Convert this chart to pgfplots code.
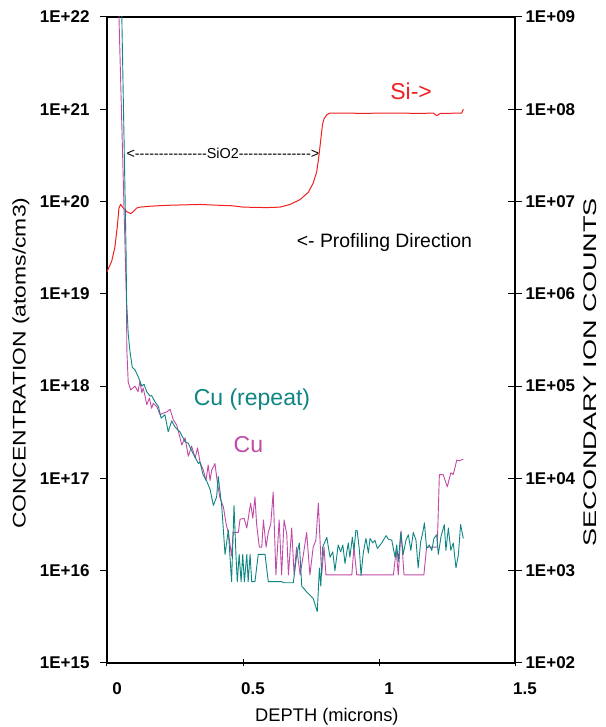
\documentclass[border=0pt]{standalone}
\usepackage{fontspec}
\setmainfont{Liberation Sans}
\usepackage{graphicx}
\usepackage{pgfplots}
\pgfplotsset{compat=1.18}
\definecolor{SiRed}{HTML}{F02020}
\definecolor{CuTeal}{HTML}{0E8582}
\definecolor{CuMag}{HTML}{C04AA6}
\newcommand\dsh{-{}-{}-{}-{}-{}-{}-{}-{}-{}-{}-{}-{}-{}-{}-{}}

\begin{document}
\begin{tikzpicture}
\begin{axis}[
    name=main,
    scale only axis,
    width=408pt, height=646pt,
    xmin=0, xmax=1.5,
    ymode=log, ymin=1e15, ymax=1e22,
    xtick={0,0.5,1,1.5},
    xticklabels={\textbf{0},\textbf{0.5},\textbf{1},\textbf{1.5}},
    ytick={1e15,1e16,1e17,1e18,1e19,1e20,1e21,1e22},
    yticklabels={\textbf{1E+15},\textbf{1E+16},\textbf{1E+17},\textbf{1E+18},
                 \textbf{1E+19},\textbf{1E+20},\textbf{1E+21},\textbf{1E+22}},
    yminorticks=false,
    xtick pos=left, ytick pos=left,
    xtick align=center, ytick align=outside,
    major tick length=7pt,
    every tick/.style={black, line width=1pt},
    axis line style={line width=1.1pt},
    tick label style={font=\fontsize{17}{20}\selectfont},
    xticklabel style={xshift=10pt, yshift=-13pt},
    yticklabel style={xshift=-7pt},
    xlabel={DEPTH (microns)},
    xlabel style={at={(axis description cs:0.539,0)}, anchor=center, yshift=-54pt,
                  font=\fontsize{18.3}{21}\selectfont},
    ylabel={\scalebox{1.25}[1]{CONCENTRATION (atoms/cm3)}},
    ylabel style={at={(axis description cs:-0.211,0.464)}, anchor=center,
                  font=\fontsize{18.3}{21}\selectfont},
    clip=true,
]
% Si
\addplot[SiRed, line width=1pt, line join=round] coordinates {
(0.000,1.74e19) (0.017,2.24e19) (0.029,3.2e19) (0.038,5.4e19) (0.044,8.5e19)
(0.050,9.3e19) (0.060,8.5e19) (0.072,7.8e19) (0.087,7.4e19) (0.097,7.8e19)
(0.109,8.5e19) (0.121,8.7e19) (0.160,8.9e19) (0.219,9.1e19) (0.280,9.2e19)
(0.342,9.3e19) (0.415,9.1e19) (0.460,9.0e19) (0.501,8.7e19) (0.587,8.6e19)
(0.636,8.7e19) (0.673,9.3e19) (0.710,1.05e20) (0.740,1.26e20) (0.758,1.58e20)
(0.771,2.1e20) (0.779,3.1e20) (0.786,4.7e20) (0.792,6.8e20) (0.798,7.9e20)
(0.808,8.7e20) (0.820,9.1e20) (0.880,9.1e20) (0.949,9.0e20) (1.000,9.1e20)
(1.077,9.1e20) (1.150,9.0e20) (1.200,9.1e20) (1.212,8.5e20) (1.225,9.0e20)
(1.304,9.1e20) (1.310,1.0e21)
};
% Cu
\addplot[CuMag, line width=0.9pt, line join=round] coordinates {
(0.0375,5.4e22) (0.0715,8.5e18) (0.073,2.45e18) (0.078,1.1e18) (0.087,9.1e17)
(0.103,1.0e18) (0.114,8.7e17) (0.121,1.12e18) (0.128,8.5e17) (0.133,9.5e17)
(0.140,7.8e17) (0.146,6.3e17) (0.156,7.4e17) (0.164,5.75e17) (0.170,6.5e17)
(0.183,6.0e17) (0.195,4.9e17) (0.207,5.1e17) (0.219,5.25e17) (0.232,5.6e17)
(0.244,4.3e17) (0.256,3.8e17) (0.268,2.8e17) (0.275,2.3e17) (0.287,2.75e17)
(0.299,1.74e17) (0.311,2.24e17) (0.324,1.66e17) (0.333,2.14e17) (0.342,1.5e17)
(0.354,1.23e17) (0.364,9.5e16) (0.372,1.4e17) (0.379,9.5e16) (0.385,1.23e17)
(0.397,1.45e17) (0.406,8.9e16) (0.415,6.2e16) (0.428,4.9e16) (0.438,3.2e16)
(0.446,2.6e16) (0.458,1.45e16) (0.464,2.6e16) (0.483,2.6e16) (0.489,3.6e16)
(0.504,3.7e16) (0.514,2.9e16) (0.528,5.4e16) (0.536,3.7e16) (0.544,6.3e16)
(0.550,3.2e16) (0.560,1.8e16) (0.569,1.8e16) (0.575,3.55e16) (0.585,1.8e16)
(0.593,2.6e16) (0.602,3.2e16) (0.611,7.1e16) (0.621,9e15) (0.633,3.55e16)
(0.642,9e15) (0.651,3.55e16) (0.661,2.45e16) (0.667,9e15) (0.679,2.9e16)
(0.688,9e15) (0.697,1.8e16) (0.710,9e15) (0.722,1.5e16) (0.734,2.6e16)
(0.746,9e15) (0.758,1.8e16) (0.768,2.14e16) (0.777,5.4e16) (0.789,9e15)
(0.798,1.8e16) (0.805,9e15) (0.900,9e15) (0.908,1.8e16) (0.918,9e15)
(1.053,9e15) (1.063,1.66e16) (1.071,9e15) (1.081,2.7e16) (1.092,9e15)
(1.165,9e15) (1.175,1.8e16) (1.214,1.8e16) (1.222,1.1e17) (1.236,1.1e17)
(1.251,8.1e16) (1.264,1.15e17) (1.273,1.1e17) (1.286,1.58e17) (1.295,1.55e17)
(1.310,1.62e17)
};
% Cu (repeat)
\addplot[CuTeal, line width=0.9pt, line join=round] coordinates {
(0.050,5.4e22) (0.070,3.0e19) (0.072,8.5e18) (0.078,3.7e18) (0.085,2.3e18)
(0.093,1.6e18) (0.103,1.5e18) (0.115,1.26e18) (0.128,1.0e18) (0.136,1.05e18)
(0.146,8.7e17) (0.158,7.8e17) (0.164,7.9e17) (0.176,6.8e17) (0.189,6.0e17)
(0.199,4.5e17) (0.213,4.9e17) (0.225,3.2e17) (0.238,4.2e17) (0.250,3.6e17)
(0.268,3.2e17) (0.287,2.5e17) (0.299,2.4e17) (0.311,2.0e17) (0.324,1.7e17)
(0.336,1.45e17) (0.342,1.5e17) (0.353,1.1e17) (0.367,9.3e16) (0.379,7.6e16)
(0.391,5.1e16) (0.403,6.3e16) (0.409,1.05e17) (0.422,4.9e16) (0.434,1.5e16)
(0.446,2.75e16) (0.458,7.6e15) (0.467,5.1e16) (0.474,1.5e16) (0.479,7.6e15)
(0.486,1.5e16) (0.493,7.6e15) (0.499,1.5e16) (0.505,7.6e15) (0.514,1.5e16)
(0.519,7.6e15) (0.526,1.5e16) (0.532,7.6e15) (0.544,7.6e15) (0.556,1.5e16)
(0.581,1.5e16) (0.593,7.6e15) (0.642,7.6e15) (0.651,7.4e15) (0.685,7.4e15)
(0.697,1.45e16) (0.707,2.0e16) (0.716,6.8e15) (0.734,5.9e15) (0.758,5.0e15)
(0.773,3.6e15) (0.781,1.07e16) (0.786,6.8e15) (0.793,1.8e16) (0.808,2.3e16)
(0.820,1.4e16) (0.830,1.6e16) (0.838,1.0e16) (0.850,1.9e16) (0.859,1.6e16)
(0.867,1.9e16) (0.875,1.2e16) (0.887,2.0e16) (0.893,1.4e16) (0.902,2.3e16)
(0.908,1.66e16) (0.915,2.75e16) (0.920,2.7e16) (0.928,1.66e16) (0.934,8.9e15)
(0.942,1.55e16) (0.952,2.24e16) (0.961,1.55e16) (0.967,2.24e16) (0.977,2.0e16)
(0.985,2.14e16) (0.994,1.74e16) (1.010,2.0e16) (1.026,2.4e16) (1.034,2.2e16)
(1.047,2.14e16) (1.059,1.4e16) (1.065,1.9e16) (1.071,1.26e16) (1.080,2.6e16)
(1.089,1.5e16) (1.099,2.14e16) (1.108,2.45e16) (1.117,1.66e16) (1.126,2.6e16)
(1.136,2.14e16) (1.144,1.07e16) (1.153,2.04e16) (1.161,2.6e16) (1.167,3.3e16)
(1.175,1.74e16) (1.185,1.9e16) (1.194,1.66e16) (1.202,2.24e16) (1.212,2.45e16)
(1.218,1.5e16) (1.228,2.34e16) (1.240,3.16e16) (1.246,1.66e16) (1.255,2.9e16)
(1.264,1.66e16) (1.273,2.0e16) (1.283,1.07e16) (1.292,1.5e16) (1.300,3.16e16)
(1.310,2.24e16)
};
\node[text=SiRed, font=\fontsize{23}{27}\selectfont] at (axis cs:1.118,1.55e21) {Si->};
\node[font=\fontsize{19.4}{23}\selectfont] at (axis cs:1.020,3.6e19) {<- Profiling Direction};
\node[text=CuTeal, font=\fontsize{23}{27}\selectfont] at (axis cs:0.533,7.1e17) {Cu (repeat)};
\node[text=CuMag, font=\fontsize{23}{27}\selectfont] at (axis cs:0.520,2.3e17) {Cu};
\node[font=\fontsize{14.4}{17}\selectfont] at (axis cs:0.426,3.3e20) {<\dsh SiO2\dsh >};
\end{axis}
\begin{axis}[
    scale only axis,
    width=408pt, height=646pt,
    xmin=0, xmax=1.5,
    ymode=log, ymin=1e2, ymax=1e9,
    axis x line=none,
    axis y line*=right,
    ytick={1e2,1e3,1e4,1e5,1e6,1e7,1e8,1e9},
    yticklabels={\textbf{1E+02},\textbf{1E+03},\textbf{1E+04},\textbf{1E+05},
                 \textbf{1E+06},\textbf{1E+07},\textbf{1E+08},\textbf{1E+09}},
    yminorticks=false,
    tick align=center,
    major tick length=14pt,
    every tick/.style={black, line width=1pt},
    axis line style={line width=1.1pt},
    tick label style={font=\fontsize{17}{20}\selectfont},
    yticklabel style={xshift=0pt},
    ylabel={\scalebox{1.48}[1]{SECONDARY ION COUNTS}},
    ylabel style={at={(axis description cs:1.184,0.45)}, anchor=center,
                  font=\fontsize{18.3}{21}\selectfont},
]
\end{axis}
\pgfresetboundingbox
\path[use as bounding box] ([shift={(-107pt,-64pt)}]main.south west)
    rectangle ([shift={(91pt,17pt)}]main.north east);
\end{tikzpicture}
\end{document}
